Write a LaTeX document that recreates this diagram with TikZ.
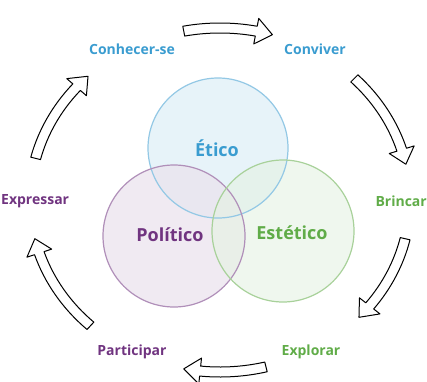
\documentclass[tikz,border=0pt]{standalone}
\usepackage{fontspec}
\setmainfont{Open Sans}
\usepackage{tikz}

\definecolor{eticoblue}{RGB}{58,156,208}
\definecolor{politicopurple}{RGB}{112,52,128}
\definecolor{esteticogreen}{RGB}{96,172,72}

\newcommand{\cyclearrow}[2]{%
\draw [black, fill=white, line width=1pt, line join=round]
  ($(O)+(#1:195 and 177)$) arc [start angle=#1, end angle=#2+5, x radius=195, y radius=177]
  -- ($(O)+(#2+5:203 and 185)$) -- ($(O)+(#2:190 and 172)$) -- ($(O)+(#2+5:177 and 159)$)
  -- ($(O)+(#2+5:185 and 167)$) arc [start angle=#2+5, end angle=#1, x radius=185, y radius=167]
  -- cycle;}

\usetikzlibrary{calc}

\begin{document}
\begin{tikzpicture}[x=1pt,y=1pt]
\tikzstyle{every node}+=[inner sep=0pt, font=\bfseries]
\tikzstyle{outer}=[font=\bfseries\fontsize{14}{16}\selectfont]
\tikzstyle{inner}=[font=\bfseries\fontsize{18}{21}\selectfont]
\useasboundingbox (0,0) rectangle (427,381);
\coordinate (O) at (220,181);
\fill [eticoblue!12] (218,233) circle (70);
\fill [politicopurple!14, fill opacity=0.75] (174,145) circle (71);
\fill [esteticogreen!16, fill opacity=0.6] (283,150) circle (71);
\draw [eticoblue!55, line width=1.2pt] (218,233) circle (70);
\draw [politicopurple!55, line width=1.2pt] (174,145) circle (71);
\draw [esteticogreen!55, line width=1.2pt] (283,150) circle (71);
\node [inner, eticoblue] (etico) at (217,233) {Ético};
\node [inner, politicopurple] (politico) at (170,146) {Político};
\node [inner, esteticogreen] (estetico) at (292,148) {Estético};
\node [outer, eticoblue] (conhecer) at (132,332) {Conhecer-se};
\node [outer, eticoblue] (conviver) at (315,332) {Conviver};
\node [outer, esteticogreen, anchor=east] (brincar) at (427,180) {Brincar};
\node [outer, esteticogreen] (explorar) at (311,29) {Explorar};
\node [outer, politicopurple] (participar) at (132,29) {Participar};
\node [outer, politicopurple, anchor=west] (expressar) at (1,180) {Expressar};
\cyclearrow{101}{74}
\cyclearrow{45}{12}
\cyclearrow{-13}{-43}
\cyclearrow{-76}{-101}
\cyclearrow{-133}{-167}
\cyclearrow{166}{134}
\end{tikzpicture}
\end{document}
